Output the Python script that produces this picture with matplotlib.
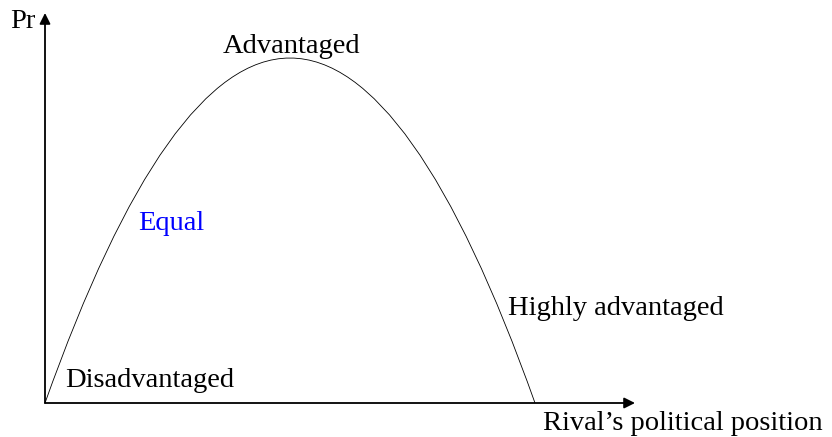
import matplotlib
matplotlib.use('Agg')
import matplotlib.pyplot as plt
from matplotlib.path import Path
from matplotlib.patches import PathPatch

plt.rcParams['font.family'] = ['Liberation Serif', 'DejaVu Serif']

# curve: start, top, end (x in position units, y in Pr units)
curve_x = [0, 245, 490]
curve_y = [0, 345, 0]

# labels and where they sit (left edge, baseline)
labels = ['Disadvantaged', 'Equal', 'Advantaged', 'Highly advantaged']
label_x = [20, 93, 178, 463]
label_y = [16, 173, 350, 88]
label_colors = ['black', 'blue', 'black', 'black']

fig = plt.figure(figsize=(8.32, 4.37), dpi=100)
ax = fig.add_axes([45/832, 34/437, 590/832, 390/437])
ax.set_xlim(0, 590)
ax.set_ylim(0, 390)
ax.axis('off')

# parabola as quadratic bezier, control point at twice the peak height
verts = [(curve_x[0], curve_y[0]), (curve_x[1], 2*curve_y[1]), (curve_x[2], curve_y[2])]
p = Path(verts, [Path.MOVETO, Path.CURVE3, Path.CURVE3])
ax.add_patch(PathPatch(p, fill=False, lw=0.6, color='black', clip_on=False))

# axes with arrows
ax.annotate('', xy=(590, 0), xytext=(0, 0),
            arrowprops=dict(arrowstyle='-|>', lw=1.3, color='black', mutation_scale=16, shrinkA=0, shrinkB=0))
ax.annotate('', xy=(0, 390), xytext=(0, 0),
            arrowprops=dict(arrowstyle='-|>', lw=1.3, color='black', mutation_scale=16, shrinkA=0, shrinkB=0))

for t, x, y, c in zip(labels, label_x, label_y, label_colors):
    ax.text(x, y, t, color=c, fontsize=20.5, va='baseline', ha='left')

ax.text(-35, 375, 'Pr', fontsize=20.5, va='baseline', ha='left', clip_on=False)
ax.text(498, -27, 'Rival\u2019s political position', fontsize=20.5, va='baseline', ha='left', clip_on=False)

fig.savefig('out.png', dpi=100)
